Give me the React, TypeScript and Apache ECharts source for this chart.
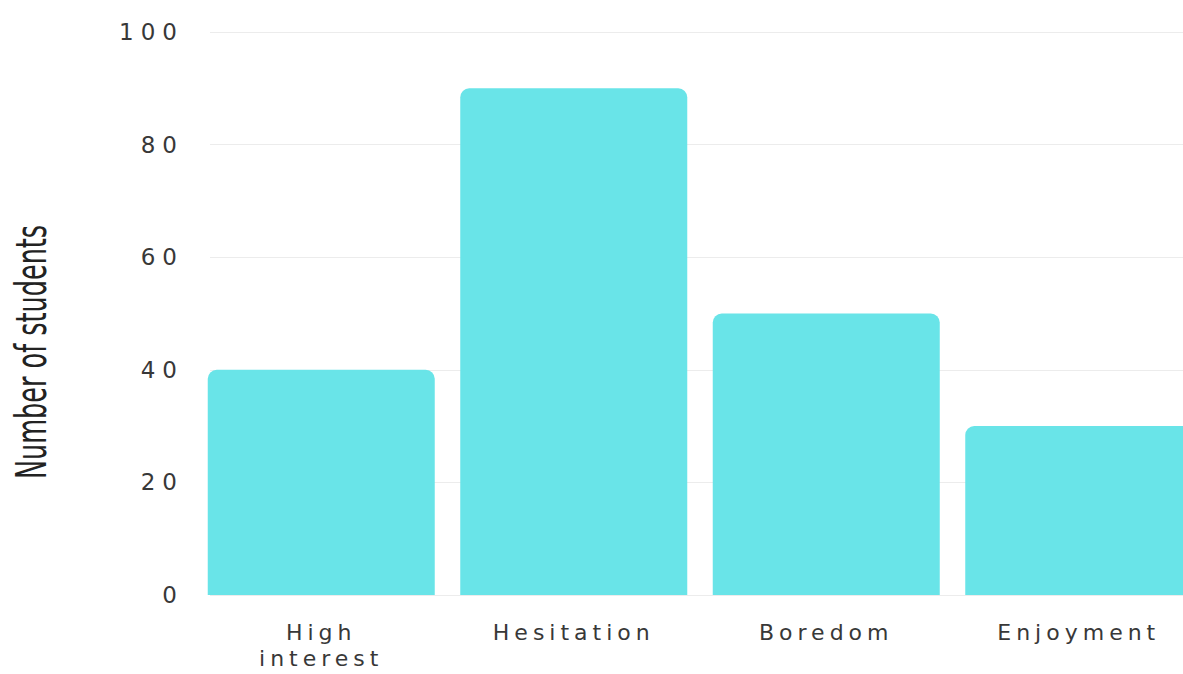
import React, { useEffect, useRef } from "react";
import * as echarts from "echarts";

const categories = ["High\ninterest", "Hesitation", "Boredom", "Enjoyment"];
const students = [40, 90, 50, 30];
const yTicks = [0, 20, 40, 60, 80, 100];
const yTitle = "Number of students";

const BAR_COLOR = "#69E4E8";
const LABEL_FONT = "'DejaVu Sans', 'Open Sans', sans-serif";
const TITLE_FONT = "'DejaVu Sans Condensed', 'Liberation Sans Narrow', sans-serif";

// wide tracking for the axis labels (SVG text picks up CSS letter-spacing)
const textCss = `
.student-chart text[style*="22px"] { letter-spacing: 5px; }
.student-chart text[style*="23px"] { letter-spacing: 7px; }
.student-chart text[style*="Condensed"] { letter-spacing: 0; }
`;

export default function App() {
  const ref = useRef<HTMLDivElement>(null);

  useEffect(() => {
    if (!ref.current) return;
    const chart = echarts.init(ref.current, undefined, { renderer: "svg" });
    const yMax = yTicks[yTicks.length - 1];
    const yStep = yTicks[1] - yTicks[0];

    chart.setOption({
      animation: false,
      backgroundColor: "#ffffff",
      grid: [
        // value grid: tick labels and horizontal guide lines
        { left: 210, right: 0, top: 32, bottom: 79, outerBoundsMode: "none" },
        // bar grid
        { left: 195, width: 1010, top: 32, bottom: 79, outerBoundsMode: "none" },
      ],
      xAxis: [
        { type: "category", gridIndex: 0, data: categories, show: false },
        {
          type: "category",
          gridIndex: 1,
          data: categories,
          axisLine: { show: false },
          axisTick: { show: false },
          axisLabel: {
            color: "#383838",
            fontSize: 22,
            fontFamily: LABEL_FONT,
            lineHeight: 26,
            margin: 24,
          },
        },
      ],
      yAxis: [
        {
          type: "value",
          gridIndex: 0,
          min: 0,
          max: yMax,
          interval: yStep,
          axisLine: { show: false },
          axisTick: { show: false },
          axisLabel: {
            color: "#383838",
            fontSize: 23,
            fontFamily: LABEL_FONT,
            margin: 26,
          },
          splitLine: { lineStyle: { color: "#ececec", width: 1 } },
        },
        {
          type: "value",
          gridIndex: 1,
          min: 0,
          max: yMax,
          interval: yStep,
          show: false,
          splitLine: { show: false },
        },
      ],
      graphic: [
        {
          type: "text",
          x: 31,
          y: 352,
          rotation: Math.PI / 2,
          scaleX: 0.66,
          style: {
            text: yTitle,
            fill: "#222222",
            font: `43px ${TITLE_FONT}`,
            align: "center",
            verticalAlign: "middle",
          },
        },
      ],
      series: [
        {
          type: "bar",
          xAxisIndex: 1,
          yAxisIndex: 1,
          data: students,
          barWidth: 227,
          itemStyle: { color: BAR_COLOR, borderRadius: [9, 9, 0, 0] },
        },
      ],
    });

    return () => chart.dispose();
  }, []);

  return (
    <>
      <style>{textCss}</style>
      <div
        ref={ref}
        className="student-chart"
        style={{ position: "fixed", left: 0, top: 0, width: 1183, height: 674 }}
      />
    </>
  );
}
